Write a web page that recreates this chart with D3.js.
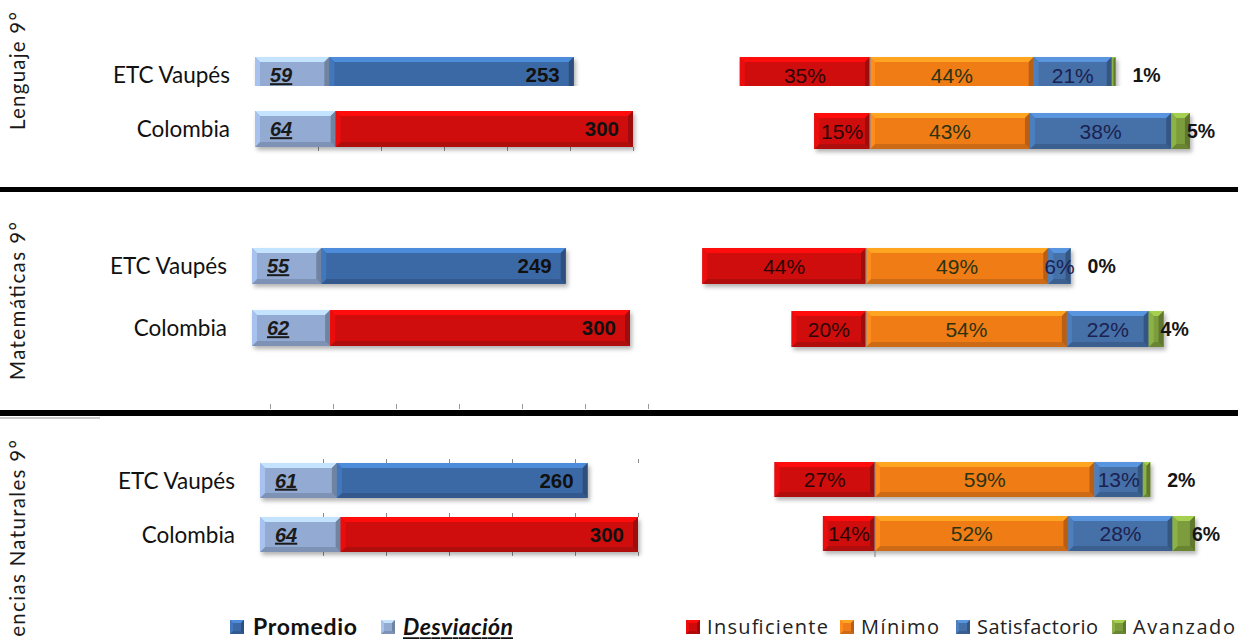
<!DOCTYPE html>
<html><head><meta charset="utf-8">
<script src="https://cdn.jsdelivr.net/npm/d3@7"></script>
<style>body{margin:0;background:#fff}svg{display:block}</style>
</head><body><svg id="c" width="1238" height="639"></svg>
<script>
// ---------------- data ----------------
const subjects = ["Lenguaje 9°", "Matemáticas 9°", "Ciencias Naturales 9°"];
const entities = ["ETC Vaupés", "Colombia"];
const promedio = [[253, 300], [249, 300], [260, 300]];
const desviacion = [[59, 64], [55, 62], [61, 64]];
const levels = ["Insuficiente", "Mínimo", "Satisfactorio", "Avanzado"];
const insuficiente = [[35, 15], [44, 20], [27, 14]];
const minimo = [[44, 43], [49, 54], [59, 52]];
const satisfactorio = [[21, 38], [6, 22], [13, 28]];
const avanzado = [[1, 5], [0, 4], [2, 6]];
const scoreTicks = [50, 100, 150, 200, 250, 300];
const leftLegend = ["Promedio", "Desviación"];

// ---------------- styles / layout ----------------
const C = {
  prom: "#3b69a5", dev: "#93abd3", colProm: "#cf0a0a",
  ins: "#cf0a0a", min: "#f07c19", sat: "#4470a8", ava: "#7c9c3c"
};
const levelColors = [C.ins, C.min, C.sat, C.ava];
const panels = [
  {leftX: 255, zeroX: 870, rowY0: 57, step: 54, barH: 36, rY0: 57, rStep: 56, titleY: 71, titleLen: 118, clipBottom: 86},
  {leftX: 252, zeroX: 866, rowY0: 248, step: 62, barH: 36, rY0: 248, rStep: 63, titleY: 301, titleLen: 158},
  {leftX: 260, zeroX: 875, rowY0: 463, step: 54, barH: 35, rY0: 462, rStep: 54, titleY: 549, titleLen: 218}
];
const PX_SCORE = 1.26, PX_PCT = 3.72;

const svg = d3.select("#c");
const defs = svg.append("defs");
const f = defs.append("filter").attr("id", "sh").attr("x", "-5%").attr("y", "-20%").attr("width", "115%").attr("height", "160%");
f.append("feDropShadow").attr("dx", 2).attr("dy", 3).attr("stdDeviation", 2).attr("flood-color", "#000").attr("flood-opacity", 0.3);
defs.append("clipPath").attr("id", "clipP1").append("rect").attr("x", 0).attr("y", 0).attr("width", 1238).attr("height", panels[0].clipBottom);

function bevel(g, x, y, w, h, color, bmax = 5) {
  if (w <= 0) return;
  const b = Math.min(bmax, w / 2, h / 2);
  const c = d3.color(color);
  const poly = (pts, fill) => g.append("polygon").attr("points", pts.map(p => p.join(",")).join(" ")).attr("fill", fill);
  g.append("rect").attr("x", x).attr("y", y).attr("width", w).attr("height", h).attr("fill", color);
  poly([[x, y], [x + w, y], [x + w - b, y + b], [x + b, y + b]], c.brighter(0.8));
  poly([[x, y + h], [x + w, y + h], [x + w - b, y + h - b], [x + b, y + h - b]], c.darker(0.45));
  poly([[x, y], [x + b, y + b], [x + b, y + h - b], [x, y + h]], c.brighter(0.35));
  poly([[x + w, y], [x + w - b, y + b], [x + w - b, y + h - b], [x + w, y + h]], c.darker(0.75));
}

// separators
svg.append("rect").attr("x", 0).attr("y", 187).attr("width", 1238).attr("height", 5).attr("fill", "#000");
svg.append("rect").attr("x", 0).attr("y", 410).attr("width", 1238).attr("height", 6).attr("fill", "#000");
svg.append("rect").attr("x", 0).attr("y", 417).attr("width", 100).attr("height", 2).attr("fill", "#c8c8c8");
// faint axis ticks above second separator
{
  const xs = d3.scaleLinear().domain([0, 300]).range([270, 270 + 300 * PX_SCORE]);
  svg.append("g").attr("transform", "translate(0,409)")
    .call(d3.axisTop(xs).tickValues([0].concat(scoreTicks)).tickSize(5).tickFormat(""))
    .call(g => g.select(".domain").remove())
    .selectAll("line").attr("stroke", "#999");
}

panels.forEach((p, pi) => {
  const xl = d3.scaleLinear().domain([0, 300]).range([p.leftX, p.leftX + 300 * PX_SCORE]);
  const xr = d3.scaleLinear().domain([0, 100]).range([p.zeroX, p.zeroX + 100 * PX_PCT]);
  const yl = d3.scalePoint().domain(entities).range([p.rowY0, p.rowY0 + p.step]);
  const yr = d3.scalePoint().domain(entities).range([p.rY0, p.rY0 + p.rStep]);

  // rotated subject title
  svg.append("text")
    .attr("transform", `translate(25,${p.titleY}) rotate(-90)`)
    .attr("text-anchor", "middle")
    .attr("font-family", "Lato, 'Open Sans', sans-serif").attr("font-size", 20.5)
    .attr("fill", "#1a1a1a")
    .attr("textLength", p.titleLen).attr("lengthAdjust", "spacing")
    .text(subjects[pi]);

  // faint score ticks
  const tickRows = pi === 0 ? [yl("Colombia") + p.barH] : pi === 2 ? [yl("ETC Vaupés") - 4, yl("Colombia") - 4, yl("Colombia") + p.barH] : [];
  tickRows.forEach(ty => {
    svg.append("g").attr("transform", `translate(0,${ty})`)
      .call(d3.axisBottom(xl).tickValues(scoreTicks).tickSize(4).tickFormat(""))
      .call(g => g.select(".domain").remove())
      .selectAll("line").attr("stroke", "#8a8a8a");
  });

  entities.forEach((e, ei) => {
    const rowG = svg.append("g");
    if (pi === 0 && ei === 0) rowG.attr("clip-path", "url(#clipP1)");
    const y = yl(e), h = p.barH;
    // category label
    svg.append("text").attr("x", xl(0) - 25).attr("y", y + h / 2).attr("dy", "0.36em")
      .attr("text-anchor", "end").attr("font-family", "Lato, sans-serif").attr("font-size", 22.5)
      .attr("fill", "#111").text(e);

    // left stacked: deviation (0 -> dev), promedio (dev -> promedio)
    const dv = desviacion[pi][ei], pr = promedio[pi][ei];
    const lg = rowG.append("g").attr("filter", "url(#sh)");
    bevel(lg, xl(0), y, xl(dv) - xl(0), h, C.dev);
    bevel(lg, xl(dv), y, xl(pr) - xl(dv), h, ei === 0 ? C.prom : C.colProm);
    rowG.append("text").attr("x", xl(0) + 15).attr("y", y + h / 2).attr("dy", "0.36em")
      .attr("font-family", "'Liberation Sans', Arial, sans-serif").attr("font-size", 20)
      .attr("font-weight", "bold").attr("font-style", "italic").attr("text-decoration", "underline")
      .attr("fill", "#1a1a1a").text(dv);
    rowG.append("text").attr("x", xl(pr) - 14).attr("y", y + h / 2).attr("dy", "0.36em")
      .attr("text-anchor", "end").attr("font-family", "'Liberation Sans', Arial, sans-serif")
      .attr("font-size", 20.5).attr("font-weight", "bold").attr("fill", "#111").text(pr);

    // right diverging stacked
    const yy = yr(e);
    const vals = [insuficiente[pi][ei], minimo[pi][ei], satisfactorio[pi][ei], avanzado[pi][ei]];
    const segs = [[-vals[0], 0]];
    let acc = 0;
    for (let k = 1; k < 4; k++) { segs.push([acc, acc + vals[k]]); acc += vals[k]; }
    const rg = rowG.append("g").attr("filter", "url(#sh)");
    segs.forEach((s, k) => bevel(rg, xr(s[0]), yy, xr(s[1]) - xr(s[0]), h, levelColors[k]));
    rowG.append("line").attr("x1", xr(0)).attr("x2", xr(0)).attr("y1", yy).attr("y2", yy + h + (pi === 2 && ei === 1 ? 6 : 0))
      .attr("stroke", "#8c8c8c").attr("stroke-width", 1.2);
    const labCol = ["#2a0505", "#2c3312", "#1c2150"];
    segs.slice(0, 3).forEach((s, k) => {
      rowG.append("text").attr("x", (xr(s[0]) + xr(s[1])) / 2).attr("y", yy + h / 2).attr("dy", "0.36em")
        .attr("text-anchor", "middle").attr("font-family", "'Liberation Sans', Arial, sans-serif")
        .attr("font-size", 21).attr("fill", labCol[k]).text(vals[k] + "%");
    });
    svg.append("text").attr("x", xr(segs[3][1]) + (ei === 0 ? 17 : -3)).attr("y", yy + h / 2).attr("dy", "0.36em")
      .attr("font-family", "'Liberation Sans', Arial, sans-serif").attr("font-size", 19.5)
      .attr("font-weight", "bold").attr("fill", "#151515").text(vals[3] + "%");
  });
});

// ---------------- legends ----------------
const ly = 627;
const leftLeg = [
  {name: leftLegend[0], color: C.prom, sx: 230, tx: 253, len: 104, italic: false, underline: false},
  {name: leftLegend[1], color: C.dev, sx: 381, tx: 403, len: 110, italic: true, underline: true}
];
leftLeg.forEach(d => {
  bevel(svg.append("g"), d.sx, ly - 7, 14, 14, d.color, 3);
  const t = svg.append("text").attr("x", d.tx).attr("y", ly).attr("dy", "0.36em")
    .attr("font-family", "Lato, sans-serif").attr("font-size", 23).attr("font-weight", "bold")
    .attr("textLength", d.len).attr("lengthAdjust", "spacing")
    .attr("fill", "#111").text(d.name);
  if (d.italic) t.attr("font-style", "italic");
  if (d.underline) t.attr("text-decoration", "underline");
});
const rightLegPos = [[686, 707, 121], [840, 861, 78], [956, 977, 121], [1112, 1133, 102]];
levels.forEach((name, i) => {
  bevel(svg.append("g"), rightLegPos[i][0], ly - 7, 14, 14, levelColors[i], 3);
  svg.append("text").attr("x", rightLegPos[i][1]).attr("y", ly).attr("dy", "0.36em")
    .attr("font-family", "'Open Sans', sans-serif").attr("font-size", 20)
    .attr("textLength", rightLegPos[i][2]).attr("lengthAdjust", "spacing")
    .attr("fill", "#222").text(name);
});
</script>
</body></html>
